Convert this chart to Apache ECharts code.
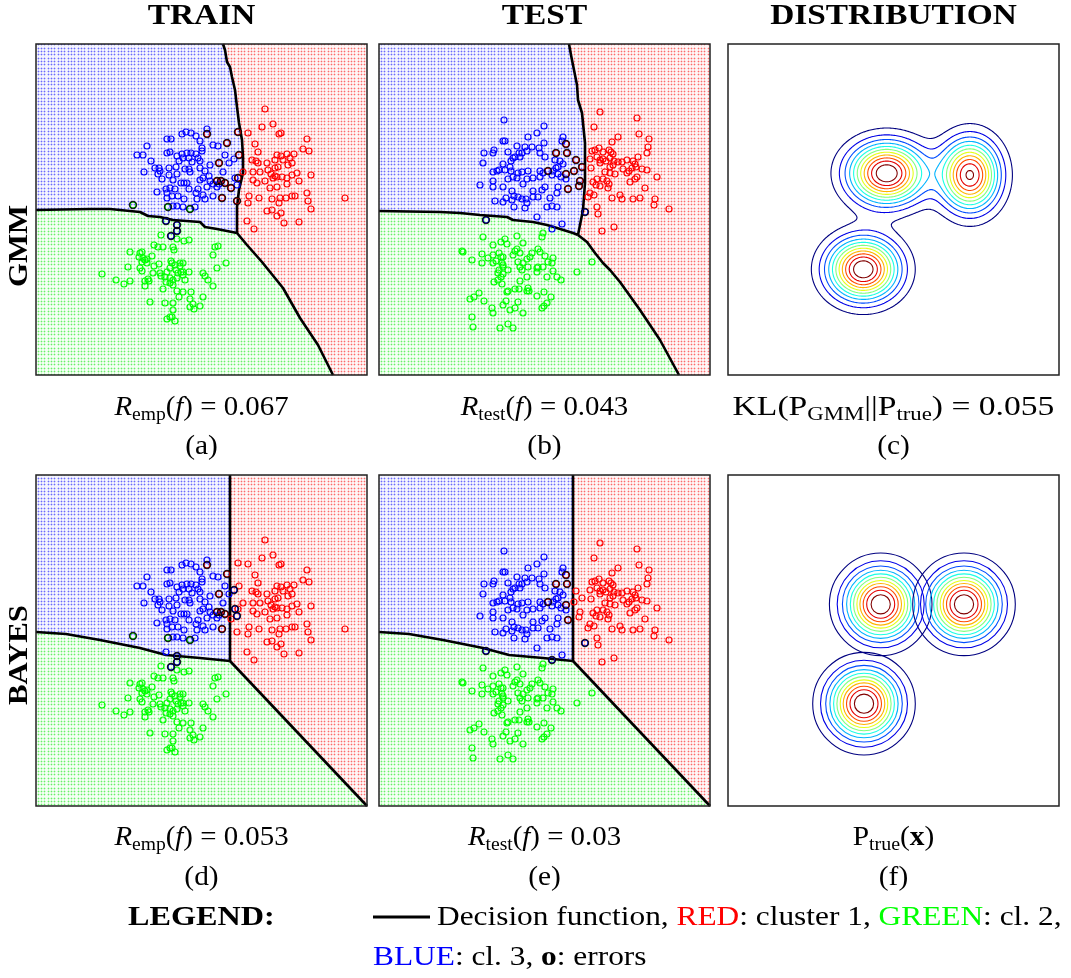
<!DOCTYPE html>
<html><head><meta charset="utf-8">
<script src="https://cdn.jsdelivr.net/npm/echarts@6/dist/echarts.min.js"></script>
<style>html,body{margin:0;padding:0;background:#fff}#c{width:1071px;height:978px}</style>
</head><body><div id="c"></div>
<script>
// ---------------- DATA (panel units: x 0..331 left->right, y 0..331 bottom->top) ----------------
const trainRed = [[229,266],[226,248],[237,251],[243,241],[245,242],[212,242],[271,236],[219,231],[267,226],[273,224],[222,223],[241,220],[245,219],[251,221],[258,221],[216,215],[220,214],[222,212],[231,212],[239,215],[247,215],[254,217],[256,212],[252,210],[242,208],[239,207],[232,205],[224,203],[217,203],[235,201],[239,199],[241,198],[246,198],[251,197],[256,200],[261,202],[275,200],[237,197],[217,195],[221,192],[229,194],[251,191],[263,194],[241,188],[234,187],[213,179],[223,177],[236,176],[244,177],[250,177],[256,179],[259,179],[271,182],[272,174],[212,172],[243,172],[231,164],[236,165],[245,162],[241,159],[275,166],[248,152],[263,153],[211,154],[218,146],[309,177],[207,203],
  [171,241],[191,232],[203,220],[183,212],[181,194],[185,194],[189,192],[195,187],[186,177],[201,174],[202,243],[202,197]];
const trainBlue = [[171,246],[146,241],[150,243],[155,242],[160,239],[131,236],[135,236],[164,234],[177,230],[182,229],[111,229],[166,227],[166,224],[134,223],[131,222],[101,220],[107,220],[146,221],[151,222],[155,222],[160,221],[141,219],[147,217],[153,217],[162,217],[189,220],[198,216],[115,214],[143,214],[164,214],[156,213],[174,210],[193,212],[108,203],[119,207],[123,207],[133,207],[140,208],[149,206],[153,206],[154,203],[124,204],[122,201],[133,200],[141,201],[164,207],[169,204],[173,199],[187,203],[167,197],[126,196],[137,195],[145,192],[148,192],[151,192],[164,195],[174,194],[177,191],[183,191],[199,197],[134,187],[130,186],[139,186],[153,186],[162,186],[171,188],[181,188],[121,183],[131,182],[142,179],[160,182],[167,180],[177,179],[131,177],[136,179],[169,176],[161,176],[148,176],[137,169],[141,169],[147,168],[159,168],[201,190],
  [130,154],[141,150],[141,144],[135,139]];
const trainGreen = [[125,140],[141,136],[148,134],[153,135],[118,130],[122,128],[127,128],[137,128],[138,125],[182,129],[179,128],[94,123],[104,122],[106,123],[116,119],[103,118],[107,117],[109,115],[111,116],[106,113],[111,112],[118,109],[123,111],[135,114],[136,112],[139,110],[144,112],[147,112],[144,109],[92,108],[104,107],[106,104],[134,107],[140,105],[131,103],[124,102],[142,102],[145,103],[147,103],[153,103],[167,102],[169,99],[181,107],[190,112],[177,120],[117,102],[125,99],[129,98],[134,97],[137,95],[141,97],[147,100],[149,95],[172,95],[66,101],[80,95],[88,91],[94,94],[109,94],[112,96],[113,94],[109,89],[130,93],[134,92],[137,90],[127,86],[177,89],[141,84],[147,83],[155,83],[143,78],[167,78],[154,76],[114,73],[129,72],[137,72],[157,71],[158,66],[164,69],[154,68],[137,65],[136,58],[131,56],[139,54],[134,58],
  [97,170],[132,168],[154,166]];

const testRed = [[221,263],[258,257],[215,248],[260,241],[239,238],[233,233],[270,236],[220,227],[213,224],[216,225],[224,223],[230,225],[232,223],[234,221],[269,228],[268,222],[211,216],[218,218],[221,215],[224,216],[227,214],[231,217],[235,214],[239,213],[243,213],[248,215],[254,214],[259,218],[256,211],[257,208],[253,207],[250,204],[263,206],[268,205],[244,206],[231,208],[234,210],[221,212],[212,207],[226,203],[231,202],[236,201],[248,202],[258,198],[278,198],[256,196],[251,193],[214,193],[218,196],[224,196],[228,194],[217,190],[221,189],[230,191],[229,187],[266,187],[211,182],[209,178],[215,180],[233,177],[241,180],[243,176],[254,176],[261,177],[276,176],[275,170],[290,166],[218,168],[219,161],[235,148],[223,144],
  [187,231],[177,222],[188,222],[197,215],[203,208],[195,204],[169,204],[187,201],[201,194],[200,189],[189,186]];
const testBlue = [[125,255],[165,249],[158,242],[149,238],[124,234],[126,234],[138,229],[146,228],[153,228],[160,227],[165,232],[184,238],[183,234],[115,225],[114,222],[105,222],[129,223],[140,222],[143,222],[148,224],[161,222],[166,218],[136,218],[134,217],[141,218],[132,214],[176,215],[181,214],[184,211],[179,208],[104,212],[124,211],[131,208],[120,205],[114,203],[118,204],[126,205],[132,204],[139,202],[143,203],[149,204],[161,204],[174,204],[177,207],[154,197],[148,196],[161,198],[138,197],[134,198],[114,194],[129,196],[164,202],[173,200],[179,201],[182,198],[101,190],[114,188],[124,188],[133,184],[144,191],[154,184],[163,185],[166,188],[179,188],[187,196],[178,182],[116,174],[127,177],[135,179],[139,178],[143,176],[147,176],[154,178],[159,178],[171,177],[148,172],[133,175],[135,168],[124,173],[146,167],[168,168],[173,169],[178,168],[158,158],[183,151],
  [206,163],[107,155],[173,146]];
const testGreen = [[104,138],[138,139],[163,138],[164,142],[126,136],[114,130],[122,133],[128,131],[144,132],[138,126],[136,124],[134,120],[141,122],[153,122],[159,126],[161,123],[166,119],[174,117],[173,112],[83,124],[84,123],[103,121],[109,117],[114,120],[120,122],[122,118],[124,118],[117,114],[114,112],[123,112],[124,108],[120,105],[124,110],[129,105],[119,102],[124,101],[122,98],[119,95],[123,91],[139,113],[144,112],[148,116],[151,118],[169,113],[141,108],[143,105],[149,108],[158,107],[159,108],[164,108],[158,103],[174,104],[178,98],[182,95],[168,98],[148,98],[141,94],[115,93],[93,115],[103,112],[198,103],[213,113],[129,84],[128,83],[136,86],[140,86],[148,84],[149,87],[150,84],[165,83],[100,82],[95,78],[91,76],[105,74],[127,74],[139,73],[158,79],[168,72],[165,69],[172,78],[163,67],[124,70],[113,67],[114,62],[131,65],[136,67],[144,62],[93,58],[94,48],[121,47],[129,51],[134,47]];

// misclassified points (drawn with black rings) per panel
const errorsA = [[171,241],[191,232],[203,220],[183,212],[181,194],[185,194],[189,192],[195,187],[186,177],[201,174],[202,243],[202,197],[97,170],[132,168],[154,166],[130,154],[141,150],[141,144],[135,139]];
const errorsB = [[187,231],[177,222],[188,222],[197,215],[203,208],[195,204],[169,204],[187,201],[201,194],[200,189],[189,186],[206,163],[107,155]];
const errorsD = [[171,241],[191,232],[183,212],[181,194],[185,194],[189,192],[186,177],[198,216],[199,197],[201,190],[97,170],[132,168],[154,166],[141,150],[141,144],[135,139]];
const errorsE = [[187,231],[177,222],[188,222],[169,204],[187,201],[189,186],[206,163],[107,155],[173,146]];

// decision boundaries: blue/red (top -> junction), blue/green (left -> junction), red/green (junction -> bottom)
const gmmTrainBR = [[187,331],[189,325],[191,313],[194,308],[196,298],[199,285],[201,268],[203,252],[206,235],[207,218],[207,202],[203,185],[201,168],[201,142]];
const gmmTrainBG = [[0,165],[54,166],[74,166],[104,163],[112,159],[124,158],[137,155],[164,153],[169,148],[181,146],[201,142]];
const gmmTrainRG = [[201,142],[211,130],[226,113],[247,87],[264,57],[282,30],[297,0]];
const gmmTestBR = [[190,331],[192,320],[195,305],[198,290],[199,275],[203,262],[206,232],[206,192],[204,165],[199,140]];
const gmmTestBG = [[0,164],[61,163],[81,162],[101,160],[128,158],[134,155],[154,153],[168,150],[178,147],[194,142],[199,140]];
const gmmTestRG = [[199,140],[208,133],[216,122],[224,112],[231,105],[241,93],[261,65],[281,35],[300,0]];
const bayesBR = [[194,331],[194,145]];
const bayesBG = [[0,174],[30,172],[64,166],[104,158],[130,151],[164,148],[194,145]];
const bayesRG = [[194,145],[331,0]];

// GMM fitted components (panel c): centres, std devs (x,y), relative peak heights
const gmmMeans = [[158.7,201.7],[242,200],[135.3,105.7]];
const gmmSigmas = [[25,20.3],[19.3,23.4],[23.3,20.3]];
const gmmPeaks = [1.0,0.93,1.0];
const contourLevelCount = 11;
// true distribution (panel f): centres and contour radii
const trueMeans = [[152.7,201.7],[236,201.7],[136,102.3]];
const trueRadii = [51.3,43.5,38.3,34.1,30.4,27.1,23.8,20.8,17.5,14.0,9.6];

// texts
const columnTitles = ['TRAIN','TEST','DISTRIBUTION'];
const rowTitles = ['GMM','BAYES'];
const panelLabels = ['(a)','(b)','(c)','(d)','(e)','(f)'];

// ---------------- RENDERING ----------------
const FONT = '"Liberation Serif","Times New Roman",serif';
const S = 331;
const panels = [
  {left:36, top:44}, {left:379, top:44}, {left:728, top:44},
  {left:36, top:475}, {left:379, top:475}, {left:728, top:475}
];

function jet(t){
  const cl = v => Math.max(0, Math.min(1, v));
  const r = cl(1.5 - Math.abs(4*t - 3)), g = cl(1.5 - Math.abs(4*t - 2)), b = cl(1.5 - Math.abs(4*t - 1));
  return 'rgb(' + Math.round(r*255) + ',' + Math.round(g*255) + ',' + Math.round(b*255) + ')';
}

function makePattern(bg, mid, dot){
  const c = document.createElement('canvas'); c.width = 10; c.height = 10;
  const g = c.getContext('2d');
  g.fillStyle = bg; g.fillRect(0,0,10,10);
  const pos = [1,4,8];
  pos.forEach(px => pos.forEach(py => {
    g.fillStyle = mid; g.fillRect(px-1,py,3,1); g.fillRect(px,py-1,1,3);
    g.fillStyle = dot; g.fillRect(px,py,1,1);
  }));
  return {image:c, repeat:'repeat'};
}
const patBlue = makePattern('#f3f3ff','#c8c8fb','#6a6aff');
const patRed = makePattern('#fff4f4','#fbcdcd','#ff6a6a');
const patGreen = makePattern('#f3fff3','#c8fbc8','#6aef6a');

const series = [];

function addRegions(idx, BR, BG, RG){
  const blue = [[0,S]].concat(BR, BG.slice().reverse());
  const red = [BR[0],[S,S],[S,0]].concat(RG.slice().reverse(), BR.slice().reverse());
  const green = BG.concat(RG, [[0,0]]);
  const polys = [blue, red, green], pats = [patBlue, patRed, patGreen];
  series.push({type:'custom', xAxisIndex:idx, yAxisIndex:idx, z:1, silent:true,
    data:[[0,0,0],[0,0,1],[0,0,2]],
    renderItem:(p, api) => {
      const k = api.value(2);
      return {type:'polygon', shape:{points: polys[k].map(q => api.coord(q))}, style:{fill: pats[k], stroke:null}};
    }});
  [BR, BG, RG].forEach(b => series.push({type:'line', xAxisIndex:idx, yAxisIndex:idx, z:3, silent:true,
    data:b, showSymbol:false, symbol:'none', lineStyle:{color:'#000', width:2.6, join:'round'}}));
}
function addPoints(idx, red, green, blue, errs){
  [[red,'#ff0000'],[green,'#00ff00'],[blue,'#0000ff']].forEach(([d,col]) => series.push({
    type:'scatter', xAxisIndex:idx, yAxisIndex:idx, z:4, silent:true, data:d,
    symbol:'circle', symbolSize:6, itemStyle:{color:'rgba(0,0,0,0)', borderColor:col, borderWidth:1.2, opacity:1}}));
  series.push({type:'scatter', xAxisIndex:idx, yAxisIndex:idx, z:5, silent:true, data:errs,
    symbol:'circle', symbolSize:7, itemStyle:{color:'rgba(0,0,0,0)', borderColor:'#000', borderWidth:1.4, opacity:0.85}});
}

addRegions(0, gmmTrainBR, gmmTrainBG, gmmTrainRG); addPoints(0, trainRed, trainGreen, trainBlue, errorsA);
addRegions(1, gmmTestBR, gmmTestBG, gmmTestRG); addPoints(1, testRed, testGreen, testBlue, errorsB);
addRegions(3, bayesBR, bayesBG, bayesRG); addPoints(3, trainRed, trainGreen, trainBlue, errorsD);
addRegions(4, bayesBR, bayesBG, bayesRG); addPoints(4, testRed, testGreen, testBlue, errorsE);

// contours of the fitted mixture (panel c) via marching squares
function density(x, y){
  let s = 0;
  for (let i = 0; i < gmmMeans.length; i++){
    const dx = (x - gmmMeans[i][0]) / gmmSigmas[i][0], dy = (y - gmmMeans[i][1]) / gmmSigmas[i][1];
    s += gmmPeaks[i] * Math.exp(-0.5*(dx*dx + dy*dy));
  }
  return s;
}
const contourPaths = (function(){
  const step = 1.25, n = Math.ceil(S/step) + 1;
  const v = new Float64Array(n*n); let mx = 0;
  for (let j = 0; j < n; j++) for (let i = 0; i < n; i++){ const d = density(i*step, j*step); v[j*n+i] = d; if (d > mx) mx = d; }
  const out = [];
  for (let k = 1; k <= contourLevelCount; k++){
    const L = k * mx / (contourLevelCount + 1); const segs = [];
    for (let j = 0; j < n-1; j++) for (let i = 0; i < n-1; i++){
      const a = v[j*n+i], b = v[j*n+i+1], c = v[(j+1)*n+i+1], d = v[(j+1)*n+i];
      const cs = (a>L?1:0)|(b>L?2:0)|(c>L?4:0)|(d>L?8:0);
      if (cs === 0 || cs === 15) continue;
      const x0 = i*step, y0 = j*step, x1 = x0+step, y1 = y0+step;
      const E = [
        [x0 + (L-a)/(b-a)*step, y0],
        [x1, y0 + (L-b)/(c-b)*step],
        [x0 + (L-d)/(c-d)*step, y1],
        [x0, y0 + (L-a)/(d-a)*step]
      ];
      const T = {1:[[3,0]],2:[[0,1]],3:[[3,1]],4:[[1,2]],5:[[3,0],[1,2]],6:[[0,2]],7:[[3,2]],8:[[2,3]],9:[[0,2]],10:[[0,1],[2,3]],11:[[1,2]],12:[[1,3]],13:[[0,1]],14:[[0,3]]}[cs];
      T.forEach(([e1,e2]) => segs.push([E[e1], E[e2]]));
    }
    out.push(segs);
  }
  return out;
})();
series.push({type:'custom', xAxisIndex:2, yAxisIndex:2, z:2, silent:true,
  data: contourPaths.map((_, k) => [0, 0, k]),
  renderItem:(p, api) => {
    const k = api.value(2);
    let d = '';
    contourPaths[k].forEach(sg => { const A = api.coord(sg[0]), B = api.coord(sg[1]); d += 'M' + A[0].toFixed(2) + ' ' + A[1].toFixed(2) + 'L' + B[0].toFixed(2) + ' ' + B[1].toFixed(2); });
    return {type:'path', shape:{pathData:d}, style:{fill:null, stroke: jet(k/(contourLevelCount-1)), lineWidth:1.1, lineCap:'round'}};
  }});

// true distribution circles (panel f)
const circleData = [];
trueMeans.forEach(m => trueRadii.forEach((r, k) => circleData.push([m[0], m[1], r, k])));
series.push({type:'custom', xAxisIndex:5, yAxisIndex:5, z:2, silent:true, data:circleData,
  renderItem:(p, api) => {
    const c = api.coord([api.value(0), api.value(1)]);
    const r = api.size([api.value(2), 0])[0];
    return {type:'circle', shape:{cx:c[0], cy:c[1], r:r}, style:{fill:null, stroke: jet(api.value(3)/(trueRadii.length-1)), lineWidth:1.1}};
  }});

// ---------------- TEXT ----------------
function T(x, y, text, o){
  o = o || {};
  return {type:'text', x:x, y:y, z:200, rotation:o.rot || 0, scaleX:o.sx || 1, silent:true,
    style:{text:text, fontFamily:FONT, fontSize:o.fs || 28, fontWeight:o.bold ? 'bold' : 'normal', fill:o.color || '#000',
      align:o.align || 'center', textAlign:o.align || 'center', verticalAlign:'middle', textVerticalAlign:'middle', rich:o.rich}};
}
const rich = {
  n:{fontFamily:FONT, fontSize:28, fill:'#000'},
  i:{fontFamily:FONT, fontSize:28, fontStyle:'italic', fill:'#000'},
  s:{fontFamily:FONT, fontSize:19, padding:[14,0,0,0], fill:'#000'},
  b:{fontFamily:FONT, fontSize:28, fontWeight:'bold', fill:'#000'},
  r:{fontFamily:FONT, fontSize:28, fill:'#ff0000', color:'#ff0000'},
  g:{fontFamily:FONT, fontSize:28, fill:'#00ff00', color:'#00ff00'},
  u:{fontFamily:FONT, fontSize:28, fill:'#0000ff', color:'#0000ff'}
};
const colX = [201.5, 544.5, 893.5];
const graphics = [];
panels.forEach(p => graphics.push({type:'rect', z:150, silent:true, shape:{x:p.left, y:p.top, width:S, height:S}, style:{fill:null, stroke:'#222', lineWidth:1.5}}));
columnTitles.forEach((t, i) => graphics.push(T(colX[i], 17, t, {bold:true, fs:29, sx:1.15})));
graphics.push(T(20, 246, rowTitles[0], {bold:true, fs:28, rot:Math.PI/2, sx:1.1}));
graphics.push(T(20, 655, rowTitles[1], {bold:true, fs:28, rot:Math.PI/2, sx:1.1}));
const formulas = [
  '{i|R}{s|emp}{n|(}{i|f}{n|) = 0.067}',
  '{i|R}{s|test}{n|(}{i|f}{n|) = 0.043}',
  '{n|KL(P}{s|GMM}{n|||P}{s|true}{n|) = 0.055}',
  '{i|R}{s|emp}{n|(}{i|f}{n|) = 0.053}',
  '{i|R}{s|test}{n|(}{i|f}{n|) = 0.03}',
  '{n|P}{s|true}{n|(}{b|x}{n|)}'
];
const fsx = [1.03, 1.03, 1.2, 1.03, 1.03, 1.05];
formulas.forEach((f, i) => {
  const y = i < 3 ? 408 : 838;
  graphics.push(T(colX[i%3], y, f, {rich:rich, sx:fsx[i]}));
  graphics.push(T(colX[i%3], i < 3 ? 447 : 878, panelLabels[i], {sx:1.05}));
});
graphics.push(T(128, 918, 'LEGEND:', {bold:true, align:'left', sx:1.15}));
graphics.push({type:'line', z:200, silent:true, shape:{x1:373, y1:917, x2:430, y2:917}, style:{stroke:'#000', lineWidth:3}});
graphics.push(T(437, 918, '{n|Decision function, }{r|RED}{n|: cluster 1, }{g|GREEN}{n|: cl. 2,}', {align:'left', rich:rich, sx:1.12}));
graphics.push(T(373, 958, '{u|BLUE}{n|: cl. 3, }{b|o}{n|: errors}', {align:'left', rich:rich, sx:1.12}));

const chart = echarts.init(document.getElementById('c'), null, {renderer:'canvas', width:1071, height:978});
chart.setOption({
  animation:false,
  backgroundColor:'#fff',
  grid: panels.map(p => ({left:p.left, top:p.top, width:S, height:S, show:false, containLabel:false})),
  xAxis: panels.map((p, i) => ({type:'value', gridIndex:i, min:0, max:S, show:false})),
  yAxis: panels.map((p, i) => ({type:'value', gridIndex:i, min:0, max:S, show:false})),
  series: series,
  graphic: {elements: graphics}
});
</script></body></html>
